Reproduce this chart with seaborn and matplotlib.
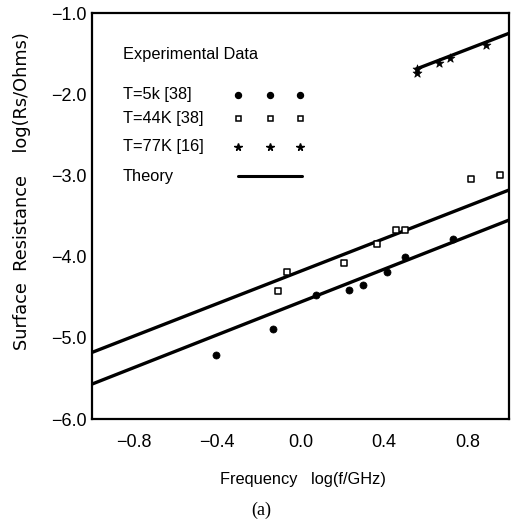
import matplotlib
matplotlib.use("Agg")
import matplotlib.pyplot as plt
import seaborn as sns
import pandas as pd
import numpy as np

# ---------------- data ----------------
t5_x = [-0.404, -0.133, 0.074, 0.231, 0.300, 0.413, 0.503, 0.731]
t5_y = [-5.21, -4.895, -4.47, -4.415, -4.346, -4.186, -4.00, -3.78]

t44_x = [-0.110, -0.063, 0.210, 0.367, 0.457, 0.503, 0.816, 0.957]
t44_y = [-4.42, -4.19, -4.08, -3.845, -3.67, -3.67, -3.04, -2.99]

t77_x = [0.560, 0.560, 0.666, 0.717, 0.890]
t77_y = [-1.743, -1.693, -1.619, -1.558, -1.394]

theory44_x = [-1.0, 1.0]
theory44_y = [-5.18, -3.18]
theory5_x = [-1.0, 1.0]
theory5_y = [-5.57, -3.55]
theory77_x = [0.555, 1.0]
theory77_y = [-1.69, -1.25]

x_ticks = [-0.8, -0.4, 0.0, 0.4, 0.8]
x_ticklabels = ["\u22120.8", "\u22120.4", "0.0", "0.4", "0.8"]
y_ticks = [-1.0, -2.0, -3.0, -4.0, -5.0, -6.0]
y_ticklabels = ["\u22121.0", "\u22122.0", "\u22123.0", "\u22124.0", "\u22125.0", "\u22126.0"]

legend_title = "Experimental Data"
legend_labels = ["T=5k [38]", "T=44K [38]", "T=77K [16]", "Theory"]

# ---------------- style ----------------
sns.set_theme(style="white")
plt.rcParams["font.family"] = ["Liberation Sans", "DejaVu Sans"]
plt.rcParams["axes.edgecolor"] = "black"
plt.rcParams["axes.linewidth"] = 1.6

fig = plt.figure(figsize=(5.23, 5.25), dpi=100)
ax = fig.add_axes([92 / 523, 1 - 419 / 525, 417 / 523, 406 / 525])

df5 = pd.DataFrame({"x": t5_x, "y": t5_y})
df44 = pd.DataFrame({"x": t44_x, "y": t44_y})
df77 = pd.DataFrame({"x": t77_x, "y": t77_y})

for tx, ty in [(theory44_x, theory44_y), (theory5_x, theory5_y), (theory77_x, theory77_y)]:
    sns.lineplot(x=tx, y=ty, ax=ax, color="black", linewidth=2.4, legend=False)

sns.scatterplot(data=df5, x="x", y="y", ax=ax, marker="o", s=26,
                color="black", edgecolor="black", linewidth=0.5, legend=False, zorder=5)
sns.scatterplot(data=df44, x="x", y="y", ax=ax, marker="s", s=18,
                facecolor="white", edgecolor="black", linewidth=1.1, legend=False, zorder=5)
sns.scatterplot(data=df77, x="x", y="y", ax=ax, marker="*", s=45,
                color="black", edgecolor="black", linewidth=0.5, legend=False, zorder=5)

ax.set_xlim(-1.0, 1.0)
ax.set_ylim(-6.0, -1.0)
ax.set_xticks(x_ticks)
ax.set_xticklabels(x_ticklabels)
ax.set_yticks(y_ticks)
ax.set_yticklabels(y_ticklabels)
ax.tick_params(axis="both", direction="in", length=3, width=1, colors="black",
               labelsize=13, labelcolor="black")
ax.tick_params(axis="x", pad=11)
ax.tick_params(axis="y", pad=4)
for sp in ax.spines.values():
    sp.set_visible(True)
    sp.set_color("black")
    sp.set_linewidth(1.6)

ax.set_xlabel("Frequency   log(f/GHz)", fontsize=11.8,
              family=["Liberation Sans", "DejaVu Sans"], color="black")
ax.xaxis.set_label_coords((303 - 92) / 417, (419 - 472) / 406)
ax.set_ylabel("Surface  Resistance    log(Rs/Ohms)", fontsize=12.8,
              family=["DejaVu Sans"], color="black")
ax.yaxis.set_label_coords((31 - 92) / 417, (419 - 191) / 406)

# custom legend (axes fraction placement)
tx0 = (123 - 92) / 417
ax.text(tx0, (419 - 55) / 406, legend_title, transform=ax.transAxes,
        fontsize=11.8, va="center", ha="left", color="black")
rows = [(419 - 95) / 406, (419 - 118) / 406, (419 - 147) / 406, (419 - 176) / 406]
for lab, ry in zip(legend_labels, rows):
    ax.text(tx0, ry, lab, transform=ax.transAxes, fontsize=11.8,
            va="center", ha="left", color="black")
mx = [(238 - 92) / 417, (270 - 92) / 417, (300 - 92) / 417]
ax.plot(mx, [rows[0]] * 3, transform=ax.transAxes, ls="none", marker="o",
        ms=4.3, color="black")
ax.plot(mx, [rows[1]] * 3, transform=ax.transAxes, ls="none", marker="s",
        ms=3.6, mfc="white", mec="black", mew=1.1)
ax.plot(mx, [rows[2]] * 3, transform=ax.transAxes, ls="none", marker="*",
        ms=5.5, color="black")
ax.plot([(238 - 92) / 417, (302 - 92) / 417], [rows[3]] * 2,
        transform=ax.transAxes, color="black", lw=2.2)

fig.text(261 / 523, 1 - 510 / 525, "(a)", fontsize=13,
         family=["Liberation Serif", "DejaVu Serif"], ha="center", va="center", color="black")

fig.savefig("out.png", dpi=100, facecolor="white")
